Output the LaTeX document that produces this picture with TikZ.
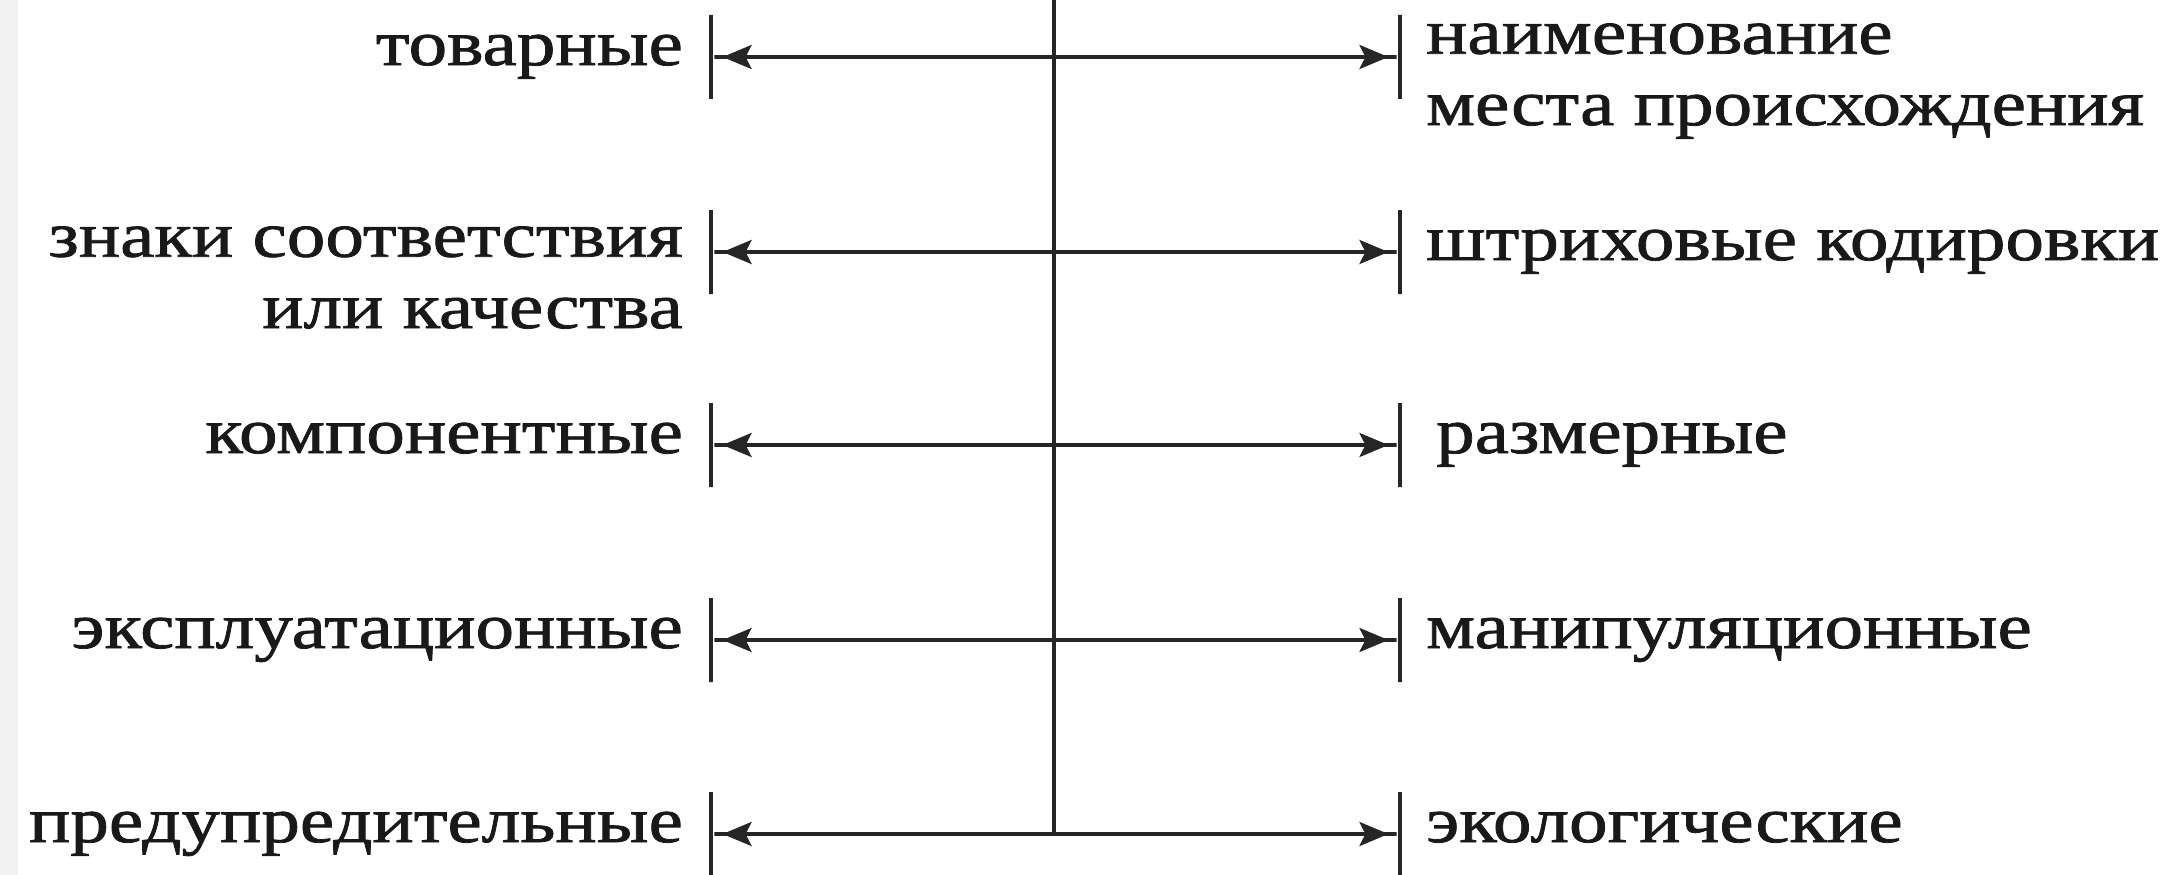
\documentclass[tikz,border=0pt]{standalone}
\usepackage{fontspec}
\setmainfont[FakeStretch=1.2,FakeBold=1.2]{Liberation Serif}
\usetikzlibrary{arrows.meta,positioning}

\begin{document}
\begin{tikzpicture}[
      line width=0.9pt,
      lbl/.style ={font=\fontsize{18.3}{20.3}\selectfont,text=black!90,inner sep=0pt,text height=1ex,text depth=0pt,align=right},
      rlbl/.style={font=\fontsize{18.3}{20.3}\selectfont,text=black!90,inner sep=0pt,text height=1ex,text depth=0pt,align=left},
      bar/.style ={draw=black!85,inner sep=0pt,minimum width=0pt,minimum height=0.84cm},
      link/.style={draw=black!85,line width=1pt,
        {Rectangle[length=1mm,width=1pt]Stealth[length=2.9mm,width=2.4mm,inset=0.6mm]}-{Stealth[length=2.9mm,width=2.4mm,inset=0.6mm]Rectangle[length=1mm,width=1pt]}}]
      % Canvas
      \useasboundingbox (0,0) rectangle (21.8,-8.75);
      \fill[black!5] (0,0) rectangle (0.18,-8.75);
      \def\xl{7.11}
      \def\xr{14.0}
      \def\xv{10.54}
      % Helper macro
      \newcommand{\branch}[6]{%
        \node[bar] (lb#1) at (\xl,#2) {};
        \node[bar] (rb#1) at (\xr,#2) {};
        \draw[link] (lb#1) -- (rb#1);
        \node[lbl,left=0.25cm of lb#1,#3] (lt#1) {#4};
        \node[rlbl,right=0.23cm of rb#1,#5] (rt#1) {#6};
      }
      % Branches
      \branch{1}{-0.57}{}{товарные}{yshift=-0.6cm}{наименование\\места происхождения}
      \branch{2}{-2.52}{yshift=-0.68cm}{знаки соответствия\\или качества}{}{штриховые кодировки}
      \branch{3}{-4.45}{}{компонентные}{xshift=0.1cm}{размерные}
      \branch{4}{-6.40}{}{эксплуатационные}{}{манипуляционные}
      \branch{5}{-8.34}{}{предупредительные}{}{экологические}
      % Trunk
      \coordinate (top) at (\xv,0);
      \draw[black!85] (top) -- (top |- lb5);
  \end{tikzpicture}
\end{document}
